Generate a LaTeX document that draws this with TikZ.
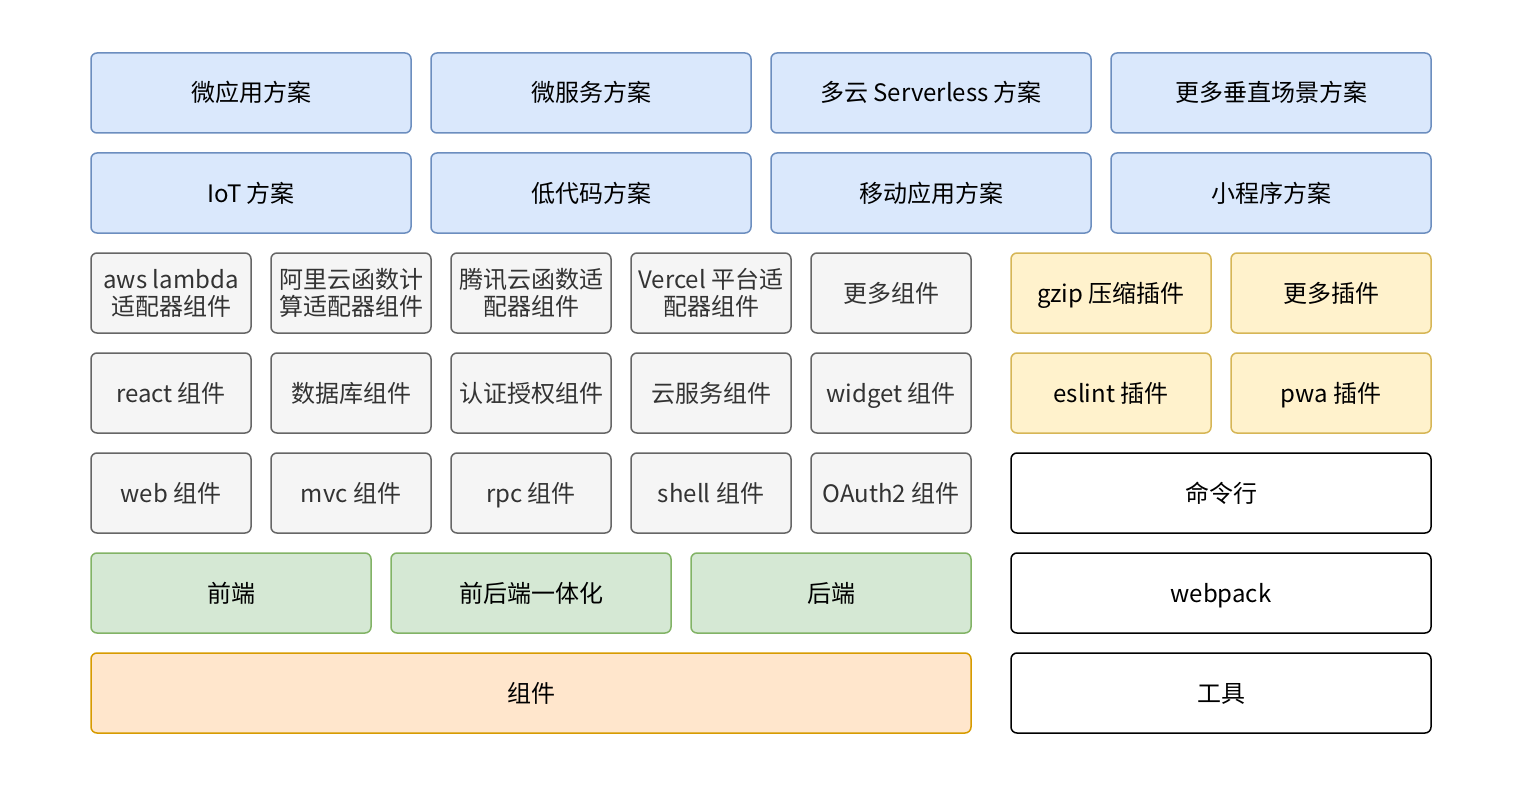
\documentclass[tikz,border=0pt]{standalone}
\usepackage{fontspec}
\setmainfont{Noto Sans CJK SC}
\usepackage{tikz}
\usetikzlibrary{positioning}
\definecolor{BlueFill}{HTML}{DAE8FC}
\definecolor{BlueLine}{HTML}{6C8EBF}
\definecolor{GrayFill}{HTML}{F5F5F5}
\definecolor{GrayLine}{HTML}{666666}
\definecolor{YellowFill}{HTML}{FFF2CC}
\definecolor{YellowLine}{HTML}{D6B656}
\definecolor{GreenFill}{HTML}{D5E8D4}
\definecolor{GreenLine}{HTML}{82B366}
\definecolor{OrangeFill}{HTML}{FFE6CC}
\definecolor{OrangeLine}{HTML}{D79B00}
\definecolor{TextGray}{HTML}{333333}
\tikzset{
  layer/.style={rectangle,rounded corners=3pt,line width=0.75pt,minimum height=40pt,inner sep=1pt,outer sep=0pt,align=center,text=black,text height=11pt,text depth=2pt,font=\fontsize{12}{13.5}\selectfont},
  twoline/.style={text height=,text depth=},
  solution/.style={layer,draw=BlueLine,fill=BlueFill,minimum width=160pt},
  component/.style={layer,draw=GrayLine,fill=GrayFill,text=TextGray,minimum width=80pt},
  plugin/.style={layer,draw=YellowLine,fill=YellowFill,minimum width=100pt},
  tool/.style={layer,draw=black,fill=white,minimum width=210pt},
  scene/.style={layer,draw=GreenLine,fill=GreenFill,minimum width=140pt},
  base/.style={layer,draw=OrangeLine,fill=OrangeFill,minimum width=440pt}
}
\begin{document}
\begin{tikzpicture}[x=0.5pt,y=-0.5pt]
\useasboundingbox (0,0) rectangle (1526,792);

% solutions
\node[solution] (microapp) at (251,93) {微应用方案};
\node[solution] (microsvc) at (591,93) {微服务方案};
\node[solution] (multicloud) at (931,93) {多云 Serverless 方案};
\node[solution] (vertical) at (1271,93) {更多垂直场景方案};
\node[solution] (iot) at (251,193) {IoT 方案};
\node[solution] (lowcode) at (591,193) {低代码方案};
\node[solution] (mobile) at (931,193) {移动应用方案};
\node[solution] (miniprog) at (1271,193) {小程序方案};

% components
\node[component,twoline] (lambda) at (171,293) {aws lambda\\适配器组件};
\node[component,twoline] (aliyun) at (351,293) {阿里云函数计\\算适配器组件};
\node[component,twoline] (tencent) at (531,293) {腾讯云函数适\\配器组件};
\node[component,twoline] (vercel) at (711,293) {Vercel 平台适\\配器组件};
\node[component] (morecomp) at (891,293) {更多组件};
\node[component] (react) at (171,393) {react 组件};
\node[component] (database) at (351,393) {数据库组件};
\node[component] (auth) at (531,393) {认证授权组件};
\node[component] (cloudsvc) at (711,393) {云服务组件};
\node[component] (widget) at (891,393) {widget 组件};
\node[component] (web) at (171,493) {web 组件};
\node[component] (mvc) at (351,493) {mvc 组件};
\node[component] (rpc) at (531,493) {rpc 组件};
\node[component] (shell) at (711,493) {shell 组件};
\node[component] (oauth) at (891,493) {OAuth2 组件};

% plugins
\node[plugin] (gzip) at (1111,293) {gzip 压缩插件};
\node[plugin] (moreplug) at (1331,293) {更多插件};
\node[plugin] (eslint) at (1111,393) {eslint 插件};
\node[plugin] (pwa) at (1331,393) {pwa 插件};

% tools
\node[tool] (cli) at (1221,493) {命令行};
\node[tool] (webpack) at (1221,593) {webpack};
\node[tool] (tools) at (1221,693) {工具};

% scenes and base
\node[scene] (frontend) at (231,593) {前端};
\node[scene] (fullstack) at (531,593) {前后端一体化};
\node[scene] (backend) at (831,593) {后端};
\node[base] (components) at (531,693) {组件};
\end{tikzpicture}
\end{document}
